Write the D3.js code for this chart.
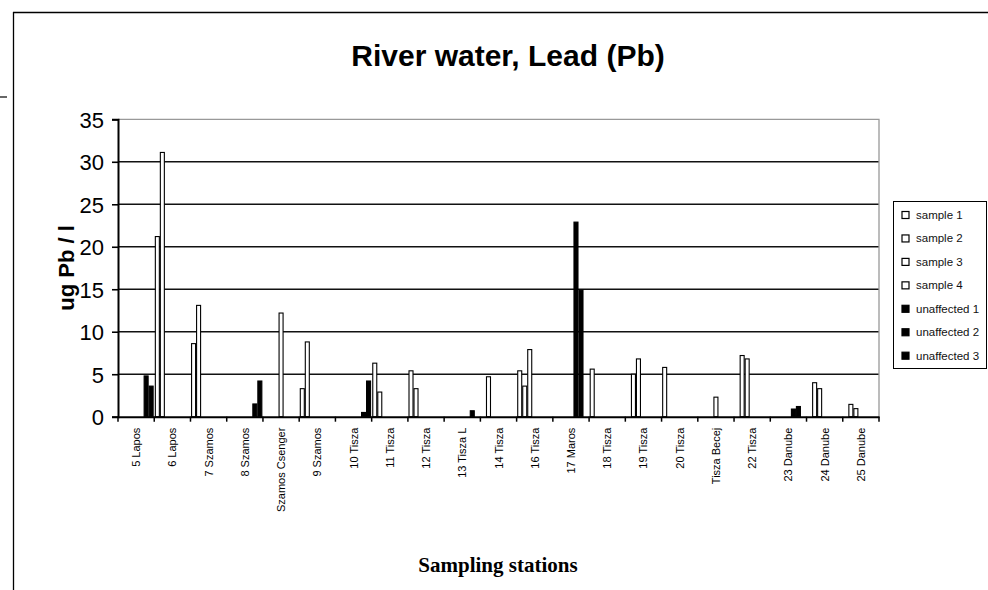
<!DOCTYPE html>
<html><head><meta charset="utf-8">
<script src="https://cdn.jsdelivr.net/npm/d3@7/dist/d3.min.js"></script>
<style>html,body{margin:0;padding:0;background:#fff;}svg{display:block;}</style>
</head><body>
<svg id="chart" width="988" height="590"></svg>
<script>
const categories = ["5 Lapos","6 Lapos","7 Szamos","8 Szamos","Szamos Csenger","9 Szamos","10 Tisza","11 Tisza","12 Tisza","13 Tisza L","14 Tisza","16 Tisza","17 Maros","18 Tisza","19 Tisza","20 Tisza","Tisza Becej","22 Tisza","23 Danube","24 Danube","25 Danube"];
const seriesNames = ["sample 1","sample 2","sample 3","sample 4","unaffected 1","unaffected 2","unaffected 3"];
const sample1 = [null,21.2,8.6,null,null,3.3,null,6.3,5.4,null,null,5.4,null,5.6,null,5.8,null,null,null,null,null];
const sample2 = [null,31.1,13.1,null,null,8.8,null,2.9,3.3,null,4.7,3.6,null,null,5.0,null,null,7.2,null,4.0,1.45];
const sample3 = [null,null,null,null,null,null,null,null,null,null,null,7.9,null,null,6.8,null,null,6.8,null,3.3,0.95];
const sample4 = [null,null,null,null,12.2,null,null,null,null,null,null,null,null,null,null,null,2.3,null,null,null,null];
const unaffected1 = [null,null,null,null,null,null,null,null,null,null,null,null,22.9,null,null,null,null,null,0.9,null,null];
const unaffected2 = [4.8,null,null,1.5,null,null,0.5,null,null,0.7,null,null,14.9,null,null,null,null,null,1.2,null,null];
const unaffected3 = [3.6,null,null,4.2,null,null,4.2,null,null,null,null,null,null,null,null,null,null,null,null,null,null];
const yTicks = [0,5,10,15,20,25,30,35];
const chartTitle = "River water, Lead (Pb)";
const yTitle = "ug Pb / l";
const xTitle = "Sampling stations";

const seriesValues = [sample1,sample2,sample3,sample4,unaffected1,unaffected2,unaffected3];
const seriesFill = ["#fff","#fff","#fff","#fff","#000","#000","#000"];

const svg = d3.select("#chart");
const L = 118, R = 879, T = 119.3, B = 416.7;

// page artifacts / frame
svg.append("line").attr("x1",13.5).attr("x2",13.5).attr("y1",12).attr("y2",590).attr("stroke","#000").attr("stroke-width",1.3);
svg.append("line").attr("x1",13).attr("x2",988).attr("y1",12.5).attr("y2",12.5).attr("stroke","#000").attr("stroke-width",1.3);
svg.append("line").attr("x1",0).attr("x2",7).attr("y1",97).attr("y2",97).attr("stroke","#000").attr("stroke-width",1.2);

const x0 = d3.scaleBand().domain(categories).range([L,R]).paddingInner(0).paddingOuter(0);
const x1 = d3.scaleBand().domain(seriesNames).range([0,x0.bandwidth()]).paddingInner(0).paddingOuter(0.12);
const y = d3.scaleLinear().domain([0,35]).range([B,T]);

// gridlines
svg.append("g").selectAll("line").data(yTicks.filter(d=>d>0 && d<35)).join("line")
  .attr("x1",L).attr("x2",R).attr("y1",d=>y(d)).attr("y2",d=>y(d))
  .attr("stroke","#111").attr("stroke-width",1.6);
// plot border top/right (gray)
svg.append("path").attr("d",`M${L},${T}H${R}V${B}`).attr("fill","none").attr("stroke","#999").attr("stroke-width",1.3);

// bars
const barData = [];
seriesValues.forEach((arr,si)=>arr.forEach((v,ci)=>{ if(v!=null) barData.push({c:categories[ci],s:seriesNames[si],v,fill:seriesFill[si]}); }));
svg.append("g").selectAll("rect").data(barData).join("rect")
  .attr("x",d=>x0(d.c)+x1(d.s)+0.5)
  .attr("width",x1.bandwidth()-1)
  .attr("y",d=>y(d.v))
  .attr("height",d=>B-y(d.v))
  .attr("fill",d=>d.fill)
  .attr("stroke","#000").attr("stroke-width",1.1);

// y axis
const yAxis = d3.axisLeft(y).tickValues(yTicks).tickSize(6).tickPadding(8);
const gy = svg.append("g").attr("transform",`translate(${L},0)`).call(yAxis);
gy.select(".domain").attr("stroke","#000").attr("stroke-width",2);
gy.selectAll(".tick line").attr("stroke","#000").attr("stroke-width",1.6);
gy.selectAll(".tick text").attr("font-family","Liberation Sans, Arial, sans-serif").attr("font-size",22).attr("fill","#000").attr("dy","0.36em");

// x axis
const xAxis = d3.axisBottom(x0).tickSize(0).tickPadding(0);
const gx = svg.append("g").attr("transform",`translate(0,${B})`).call(xAxis);
gx.select(".domain").attr("stroke","#000").attr("stroke-width",2);
gx.selectAll(".tick text")
  .attr("font-family","Liberation Sans, Arial, sans-serif").attr("font-size",11).attr("fill","#000")
  .attr("text-anchor","end").attr("transform","translate(4,11) rotate(-90)").attr("dy",0).attr("x",0).attr("y",0);
// category boundary ticks
svg.append("g").selectAll("line").data(d3.range(categories.length+1)).join("line")
  .attr("x1",i=>L+i*x0.step()).attr("x2",i=>L+i*x0.step())
  .attr("y1",B).attr("y2",B+5).attr("stroke","#000").attr("stroke-width",1.5);

// titles
svg.append("text").attr("x",508).attr("y",66).attr("text-anchor","middle")
  .attr("font-family","Liberation Sans, Arial, sans-serif").attr("font-weight","bold").attr("font-size",30).text(chartTitle);
svg.append("text").attr("transform","translate(74,268) rotate(-90)").attr("text-anchor","middle")
  .attr("font-family","Liberation Sans, Arial, sans-serif").attr("font-weight","bold").attr("font-size",22).text(yTitle);
svg.append("text").attr("x",498).attr("y",572).attr("text-anchor","middle")
  .attr("font-family","Liberation Serif, Times New Roman, serif").attr("font-weight","bold").attr("font-size",21).text(xTitle);

// legend
const lg = svg.append("g");
lg.append("rect").attr("x",893.5).attr("y",201.5).attr("width",93).attr("height",167).attr("fill","#fff").attr("stroke","#000").attr("stroke-width",1);
const items = lg.selectAll("g.item").data(seriesNames).join("g").attr("class","item")
  .attr("transform",(d,i)=>`translate(902,${215+i*23.45})`);
items.append("rect").attr("x",0).attr("y",-3.5).attr("width",7).attr("height",7)
  .attr("fill",(d,i)=>seriesFill[i]).attr("stroke","#000").attr("stroke-width",1.2);
items.append("text").attr("x",14).attr("y",0).attr("dy","0.35em")
  .attr("font-family","Liberation Sans, Arial, sans-serif").attr("font-size",11.5).attr("fill","#111").text(d=>d);
</script>
</body></html>
